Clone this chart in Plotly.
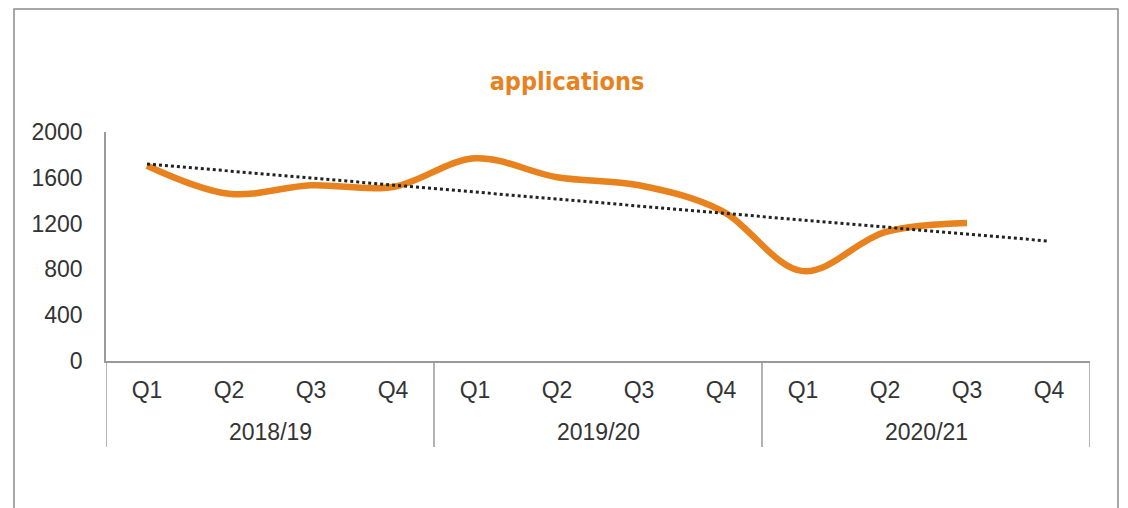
import numpy as np
import plotly.graph_objects as go

years = ["2018/19", "2019/20", "2020/21"]
quarters = ["Q1", "Q2", "Q3", "Q4"]
applications = [1705, 1460, 1535, 1520, 1770, 1605, 1535, 1315, 785, 1125, 1205]

# page has an 8px body margin, so the figure is a bit smaller than the window
W, H = 1120, 500
L, R, T, B = 98, 38, 124, 147

slots = list(range(len(years) * len(quarters)))
tick_text = quarters * len(years)

# linear trend over the observed quarters, extended to the last slot
n = len(applications)
slope, icept = np.polyfit(np.arange(n), applications, 1)
trend = list(icept + slope * np.array(slots))

fig = go.Figure()
fig.add_trace(go.Scatter(
    x=slots[:n], y=applications,
    mode="lines", line=dict(color="#E8821E", width=6.5, shape="spline", smoothing=1.0),
    hoverinfo="skip",
))
fig.add_trace(go.Scatter(
    x=slots, y=trend,
    mode="lines", line=dict(color="#222222", width=3, dash="dot"),
    hoverinfo="skip",
))

pw, ph = W - L - R, H - T - B
def px_x(p):
    return (p - L) / pw
def px_y(p):
    return (H - B - p) / ph

axis_grey = "#9a9a9a"

# outer chart frame
fig.add_shape(type="rect", xref="paper", yref="paper",
              x0=px_x(6), x1=px_x(1110), y0=px_y(530), y1=px_y(1),
              line=dict(color="#8c8c8c", width=1.5), layer="below")

# group dividers and year labels
for i, yr in enumerate(years):
    fig.add_shape(type="line", xref="x", yref="paper",
                  x0=i * 4 - 0.5, x1=i * 4 - 0.5, y0=0, y1=px_y(439),
                  line=dict(color=axis_grey, width=1.5))
    fig.add_annotation(x=i * 4 + 1.5, xref="x", y=px_y(424), yref="paper",
                       text=yr, showarrow=False, yanchor="middle",
                       font=dict(size=23, color="#333333"))
fig.add_shape(type="line", xref="x", yref="paper",
              x0=len(slots) - 0.5, x1=len(slots) - 0.5, y0=0, y1=px_y(439),
              line=dict(color=axis_grey, width=1.5))

fig.update_layout(
    width=W, height=H,
    margin=dict(l=L, r=R, t=T, b=B),
    paper_bgcolor="white", plot_bgcolor="white",
    showlegend=False,
    font=dict(family="Liberation Sans, Arial, sans-serif", size=23, color="#333333"),
    title=dict(text="<b>applications</b>", x=559 / W, xanchor="center",
               y=1 - 73 / H, yanchor="middle",
               font=dict(family="Liberation Sans Narrow, DejaVu Sans Condensed, sans-serif",
                         size=25, color="#E8821E")),
    xaxis=dict(range=[-0.5, len(slots) - 0.5], tickvals=slots, ticktext=tick_text,
               showgrid=False, zeroline=False, ticks="",
               showline=True, linecolor=axis_grey, linewidth=1.5,
               ticklabelstandoff=8,
               tickfont=dict(size=23, color="#333333")),
    yaxis=dict(range=[0, 2000], dtick=400, showgrid=False, zeroline=False,
               showline=True, linecolor=axis_grey, linewidth=1.5, ticks="",
               ticklabelstandoff=17, tickfont=dict(size=23, color="#333333")),
)

fig.write_html("out.html")
